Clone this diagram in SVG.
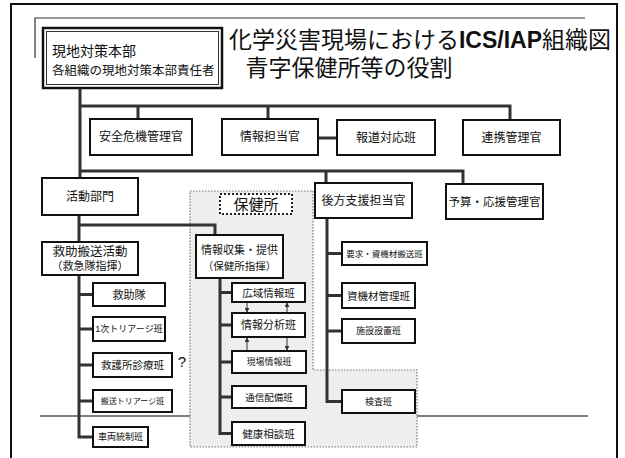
<svg xmlns="http://www.w3.org/2000/svg" width="625" height="458" viewBox="0 0 625 458">
<defs>
<style>
text{font-family:"Liberation Sans","Noto Sans CJK JP",sans-serif;fill:#111;text-anchor:middle;dominant-baseline:central}
.box{fill:#fff;stroke:#111;stroke-width:2}
.con{fill:none;stroke:#333;stroke-width:3}
.thin{fill:none;stroke:#333;stroke-width:1}
</style>
<marker id="ah" viewBox="0 0 6 6" refX="5" refY="3" markerWidth="5" markerHeight="5" orient="auto"><path d="M0,0L6,3L0,6z" fill="#333"/></marker>
</defs>
<rect x="0" y="0" width="625" height="458" fill="#fff"/>
<rect x="11" y="4" width="606" height="470" fill="none" stroke="#111" stroke-width="2"/>
<path d="M35,58V18H585" fill="none" stroke="#333" stroke-width="1.2"/>
<g id="title">
<text x="420" y="40" style="font-size:23px">化学災害現場における<tspan style="font-weight:bold">ICS/IAP</tspan>組織図</text>
<text x="349" y="68" style="font-size:23px">青字保健所等の役割</text>
</g>
<line x1="40" y1="416" x2="588" y2="416" stroke="#555" stroke-width="1.5"/>
<g id="hokenjo-area">
<path d="M190,191H313V370H417V447H190Z" fill="#eeeeee" stroke="#777" stroke-width="1.2" stroke-dasharray="1.5,1.5"/>
<rect x="220" y="194" width="72" height="20" fill="#fff" stroke="#222" stroke-width="2" stroke-dasharray="2,2"/>
<text x="256" y="204" style="font-size:15px">保健所</text>
</g>
<g id="connectors">
<path class="con" d="M80,88V178M80,106H510V120M138,106V119M268,106V119M80,171H463V184M326,171V183"/>
<path class="con" d="M318,138H337"/>
<path class="con" d="M79,215V242M79,225H215V235"/>
<path class="con" d="M79,275V437H93M79,294.5H93M79,329H93M79,365H93M79,401H93"/>
<path class="con" d="M220,278V433.5H232M220,292.5H232M220,325H232M220,362H232M220,397H232"/>
<path class="con" d="M327,218V401.5H342M327,253.5H342M327,295.5H342M327,331H342"/>
<path class="thin" marker-end="url(#ah)" d="M247,302V312"/>
<path class="thin" marker-end="url(#ah)" d="M287,312V303"/>
<path class="thin" marker-end="url(#ah)" d="M247,351V338"/>
<path class="thin" marker-end="url(#ah)" d="M287,338V350"/>
</g>
<g id="hq">
<rect x="43" y="28" width="179" height="60" fill="#fff" stroke="#111" stroke-width="2.5"/>
<rect x="46.5" y="31.5" width="172" height="53" fill="none" stroke="#333" stroke-width="1"/>
<text x="52" y="51" style="font-size:14px;text-anchor:start">現地対策本部</text>
<text x="52" y="71" style="font-size:12.5px;text-anchor:start">各組織の現地対策本部責任者</text>
</g>
<g id="anzen"><rect class="box" x="90" y="119" width="102" height="36"/><text x="141" y="137" style="font-size:12px">安全危機管理官</text></g>
<g id="joho"><rect class="box" x="222" y="119" width="96" height="36"/><text x="270" y="137" style="font-size:12px">情報担当官</text></g>
<g id="hodo"><rect class="box" x="337" y="120" width="98" height="35"/><text x="386" y="137.5" style="font-size:12px">報道対応班</text></g>
<g id="renkei"><rect class="box" x="463" y="120" width="97" height="35"/><text x="511.5" y="137.5" style="font-size:12px">連携管理官</text></g>
<g id="katsudo"><rect class="box" x="42" y="178" width="96" height="37"/><text x="90" y="196.5" style="font-size:12px">活動部門</text></g>
<g id="kohou"><rect class="box" x="315" y="183" width="97" height="35"/><text x="363.5" y="200.5" style="font-size:12px">後方支援担当官</text></g>
<g id="yosan"><rect class="box" x="446" y="184" width="97" height="35"/><text x="494.5" y="201.5" style="font-size:11.5px">予算・応援管理官</text></g>
<g id="kyujo-hanso"><rect class="box" x="42" y="242" width="96" height="33"/><text x="90" y="252" style="font-size:12.5px">救助搬送活動</text><text x="90" y="266" style="font-size:11px">（救急隊指揮）</text></g>
<g id="kyujotai"><rect class="box" x="93" y="283" width="72" height="23"/><text x="129" y="294.5" style="font-size:11px">救助隊</text></g>
<g id="triage1"><rect class="box" x="93" y="317" width="72" height="24"/><text x="129" y="329" style="font-size:9px">1次トリアージ班</text></g>
<g id="kyugosho"><rect class="box" x="93" y="353" width="79" height="24"/><text x="132.5" y="365" style="font-size:10.5px">救護所診療班</text></g>
<text x="182" y="361" style="font-size:15px">?</text>
<g id="hanso-triage"><rect class="box" x="93" y="390" width="79" height="22"/><text x="132.5" y="401" style="font-size:8px">搬送トリアージ班</text></g>
<g id="sharyo"><rect class="box" x="93" y="427" width="55" height="20"/><text x="120.5" y="437" style="font-size:9px">車両統制班</text></g>
<g id="johoshushu"><rect class="box" x="196" y="235" width="87" height="43"/><text x="239.5" y="250" style="font-size:11px">情報収集・提供</text><text x="239.5" y="266" style="font-size:10.5px">（保健所指揮）</text></g>
<g id="koiki"><rect class="box" x="232" y="283" width="73" height="19"/><text x="268.5" y="292.5" style="font-size:10.5px">広域情報班</text></g>
<g id="bunseki"><rect class="box" x="232" y="313" width="73" height="24"/><text x="268.5" y="325" style="font-size:11px">情報分析班</text></g>
<g id="genba"><rect class="box" x="232" y="351" width="74" height="22"/><text x="269" y="362" style="font-size:9px">現場情報班</text></g>
<g id="tsushin"><rect class="box" x="232" y="386" width="74" height="22"/><text x="269" y="397" style="font-size:9.5px">通信配備班</text></g>
<g id="kenko"><rect class="box" x="232" y="422" width="73" height="23"/><text x="268.5" y="433.5" style="font-size:10.5px">健康相談班</text></g>
<g id="yokyu"><rect class="box" x="342" y="242" width="85" height="23"/><text x="384.5" y="253.5" style="font-size:8.5px">要求・資機材搬送班</text></g>
<g id="shikizai"><rect class="box" x="342" y="283" width="73" height="25"/><text x="378.5" y="295.5" style="font-size:10.5px">資機材管理班</text></g>
<g id="shisetsu"><rect class="box" x="342" y="319" width="73" height="24"/><text x="378.5" y="331" style="font-size:9px">施設設置班</text></g>
<g id="kensa"><rect class="box" x="342" y="390" width="73" height="23"/><text x="378.5" y="401.5" style="font-size:9px">検査班</text></g>
</svg>
